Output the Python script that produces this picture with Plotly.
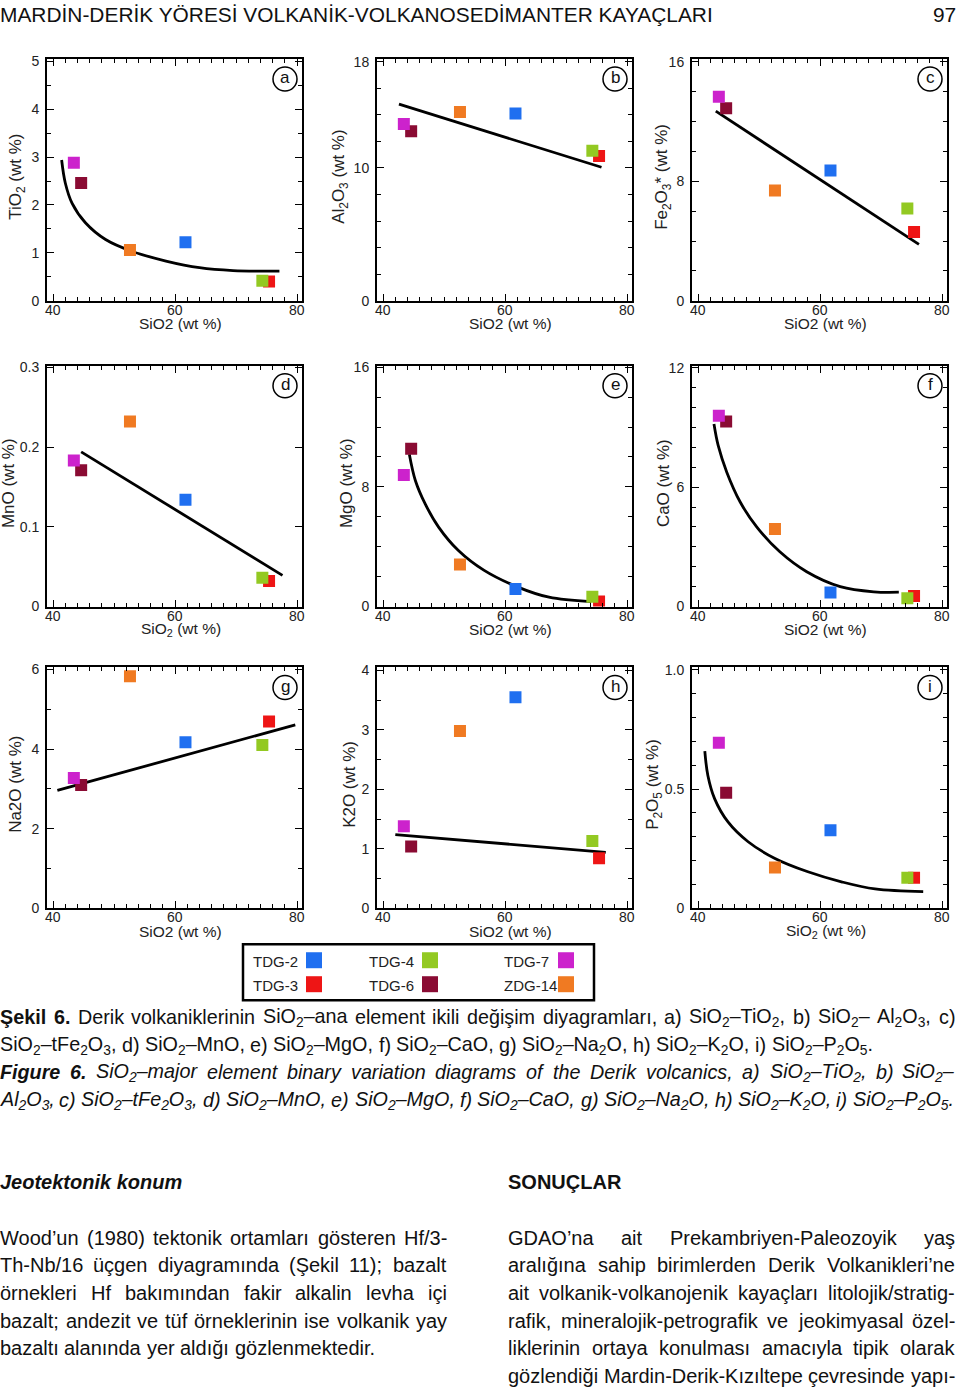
import plotly.graph_objects as go

W, H = 960, 1389

# ---------------- data ----------------
samples = ["TDG-2", "TDG-3", "TDG-4", "TDG-6", "TDG-7", "ZDG-14"]
colors = ["#1f6ff0", "#ee1515", "#93c922", "#8a0b33", "#cc22cc", "#f07a22"]

sio2 = [61.7, 75.4, 74.3, 44.6, 43.4, 52.6]
tio2 = [1.22, 0.40, 0.42, 2.46, 2.88, 1.06]
al2o3 = [14.1, 10.9, 11.3, 12.75, 13.3, 14.2]
fe2o3 = [8.73, 4.6, 6.18, 12.9, 13.67, 7.38]
mno = [0.134, 0.032, 0.036, 0.171, 0.183, 0.232]
mgo = [1.17, 0.33, 0.66, 10.55, 8.8, 2.81]
cao = [0.70, 0.53, 0.42, 9.3, 9.58, 3.9]
na2o = [4.17, 4.69, 4.10, 3.10, 3.27, 5.83]
k2o = [3.55, 0.84, 1.13, 1.04, 1.38, 2.98]
p2o5 = [0.327, 0.128, 0.128, 0.485, 0.694, 0.171]

# trend lines
trend_a_x = [41.4, 42.0, 43.1, 45.3, 48.6, 53.0, 58.5, 64.0, 69.5, 77.1]
trend_a_y = [2.94, 2.46, 2.04, 1.63, 1.28, 1.03, 0.83, 0.69, 0.63, 0.62]
trend_b_x = [42.6, 75.8]
trend_b_y = [14.8, 10.05]
trend_c_x = [42.9, 76.2]
trend_c_y = [12.7, 3.78]
trend_d_x = [44.6, 77.6]
trend_d_y = [0.194, 0.039]
trend_e_x = [44.3, 45.3, 46.9, 49.1, 52.3, 56.5, 61.9, 67.2, 74.1]
trend_e_y = [10.18, 8.41, 6.86, 5.31, 3.76, 2.43, 1.33, 0.62, 0.33]
trend_f_x = [42.6, 43.3, 44.7, 46.9, 49.6, 53.4, 57.8, 63.3, 68.8, 72.9]
trend_f_y = [9.17, 8.08, 6.75, 5.25, 4.0, 2.75, 1.75, 1.0, 0.74, 0.72]
trend_g_x = [40.7, 79.7]
trend_g_y = [2.96, 4.61]
trend_h_x = [42.0, 76.5]
trend_h_y = [1.24, 0.94]
trend_i_x = [41.1, 41.6, 42.7, 44.9, 48.2, 52.6, 58.0, 63.5, 69.0, 76.9]
trend_i_y = [0.659, 0.557, 0.46, 0.362, 0.279, 0.209, 0.153, 0.111, 0.081, 0.070]

x_ticks = [40, 60, 80]

panels = [
    ("a", tio2, trend_a_x, trend_a_y, [0, 5.05], [0, 1, 2, 3, 4, 5], ["0", "1", "2", "3", "4", "5"], 0.5,
     "TiO<sub>2</sub> (wt %)", "SiO2 (wt %)"),
    ("b", al2o3, trend_b_x, trend_b_y, [0, 18.2], [0, 10, 18], ["0", "10", "18"], 2,
     "Al<sub>2</sub>O<sub>3</sub> (wt %)", "SiO2 (wt %)"),
    ("c", fe2o3, trend_c_x, trend_c_y, [0, 16.2], [0, 8, 16], ["0", "8", "16"], 2,
     "Fe<sub>2</sub>O<sub>3</sub>* (wt %)", "SiO2 (wt %)"),
    ("d", mno, trend_d_x, trend_d_y, [0, 0.302], [0, 0.1, 0.2, 0.3], ["0", "0.1", "0.2", "0.3"], 0.1,
     "MnO (wt %)", "SiO<sub>2</sub> (wt %)"),
    ("e", mgo, trend_e_x, trend_e_y, [0, 16.1], [0, 8, 16], ["0", "8", "16"], 2,
     "MgO (wt %)", "SiO2 (wt %)"),
    ("f", cao, trend_f_x, trend_f_y, [0, 12.1], [0, 6, 12], ["0", "6", "12"], 1,
     "CaO (wt %)", "SiO2 (wt %)"),
    ("g", na2o, trend_g_x, trend_g_y, [0, 6.05], [0, 2, 4, 6], ["0", "2", "4", "6"], 1,
     "Na2O (wt %)", "SiO2 (wt %)"),
    ("h", k2o, trend_h_x, trend_h_y, [0, 4.05], [0, 1, 2, 3, 4], ["0", "1", "2", "3", "4"], 0.5,
     "K2O (wt %)", "SiO2 (wt %)"),
    ("i", p2o5, trend_i_x, trend_i_y, [0, 1.01], [0, 0.5, 1.0], ["0", "0.5", "1.0"], 0.1,
     "P<sub>2</sub>O<sub>5</sub> (wt %)", "SiO<sub>2</sub> (wt %)"),
]

# ---------------- layout geometry (pixels) ----------------
cols_px = [(47, 302), (377, 632), (692, 947)]
rows_px = [(57, 299), (364, 605), (666, 907)]
ytitle_off = [30, 37, 29, 39, 31, 29, 31, 27, 38]


def px(x):
    return x / W


def py(y):
    return 1 - ((y - 5) / 0.99) / H


FONT = "Liberation Sans, Arial, Helvetica, sans-serif"

# Arial / Liberation Sans advance widths (per 1000 em) for text justification
AR = {" ": 278, "'": 191, "(": 333, ")": 333, "*": 389, ",": 278, "-": 333, ".": 278, "/": 278,
      ":": 278, ";": 278, "%": 889, "’": 222, "–": 556,
      "A": 667, "B": 667, "C": 722, "D": 722, "E": 667, "F": 611, "G": 778, "H": 722, "I": 278,
      "J": 500, "K": 667, "L": 556, "M": 833, "N": 722, "O": 778, "P": 667, "Q": 778, "R": 722,
      "S": 667, "T": 611, "U": 722, "V": 667, "W": 944, "X": 667, "Y": 667, "Z": 611,
      "a": 556, "b": 556, "c": 500, "d": 556, "e": 556, "f": 278, "g": 556, "h": 556, "i": 222,
      "j": 222, "k": 500, "l": 222, "m": 833, "n": 556, "o": 556, "p": 556, "q": 556, "r": 333,
      "s": 500, "t": 278, "u": 556, "v": 500, "w": 722, "x": 500, "y": 500, "z": 500,
      "ı": 278, "ğ": 556, "ş": 500, "ü": 556, "ö": 556, "ç": 500, "Ş": 667, "Ç": 722, "İ": 278,
      "Ö": 778, "Ü": 722}
ARB = {"e": 556, "k": 556, "i": 278, "l": 278, "g": 611, "u": 611, "r": 389, "F": 611, "Ş": 667}


def text_width(word, size, bold=False):
    total, scale, i = 0.0, 1.0, 0
    while i < len(word):
        if word.startswith("<sub>", i):
            scale = 0.7
            i += 5
            continue
        if word.startswith("</sub>", i):
            scale = 1.0
            i += 6
            continue
        ch = word[i]
        w = ARB.get(ch, AR.get(ch, 556)) if bold else AR.get(ch, 556)
        total += w * scale
        i += 1
    return total * size / 1000.0


annotations = []
shapes = []


def add_line(text, xl, xr, y, size, italic=False, nbold=0, justify=True):
    words = text.split(" ")
    widths = [text_width(w, size, bold=(k < nbold)) for k, w in enumerate(words)]
    if justify and len(words) > 1:
        gap = (xr - xl - sum(widths)) / (len(words) - 1)
    else:
        gap = AR[" "] * size / 1000.0
    x = xl
    for k, (w, wd) in enumerate(zip(words, widths)):
        t = w
        if italic:
            t = f"<i>{t}</i>"
        if k < nbold:
            t = f"<b>{t}</b>"
        last = justify and k == len(words) - 1 and len(words) > 1
        annotations.append(dict(text=t, xref="paper", yref="paper",
                                x=px(xr if last else x), y=py(y), showarrow=False,
                                xanchor="right" if last else "left", yanchor="middle",
                                borderpad=0, borderwidth=0,
                                font=dict(family=FONT, size=size, color="#111")))
        x += wd + gap


fig = go.Figure()
layout = dict(
    width=W, height=H, margin=dict(l=0, r=0, t=0, b=0),
    paper_bgcolor="white", plot_bgcolor="white", showlegend=False,
    font=dict(family=FONT, color="#222"),
)

for k, (lab, yv, tx, ty, yr, ytv, ytt, ymin, ytitle, xtitle) in enumerate(panels):
    n = k + 1
    r, c = divmod(k, 3)
    x0, x1 = cols_px[c]
    y0, y1 = rows_px[r]
    xa = "x" if n == 1 else f"x{n}"
    ya = "y" if n == 1 else f"y{n}"
    xkey = "xaxis" if n == 1 else f"xaxis{n}"
    ykey = "yaxis" if n == 1 else f"yaxis{n}"
    common = dict(showline=True, linecolor="black", linewidth=2, mirror="allticks",
                  ticks="inside", ticklen=7, tickwidth=1.3, tickcolor="black",
                  showgrid=False, zeroline=False)
    layout[xkey] = dict(domain=[px(x0), px(x1)], range=[39, 80.8], anchor=ya,
                        tickvals=x_ticks, showticklabels=False,
                        minor=dict(ticks="inside", ticklen=4, dtick=2, tick0=40,
                                   tickcolor="black", tickwidth=1),
                        **common)
    layout[ykey] = dict(domain=[py(y1), py(y0)], range=yr, anchor=xa,
                        tickvals=ytv, ticktext=ytt, ticklabelstandoff=3,
                        tickfont=dict(family=FONT, size=14, color="#222"),
                        minor=dict(ticks="inside", ticklen=4, dtick=ymin, tick0=0,
                                   tickcolor="black", tickwidth=1),
                        **common)
    fig.add_trace(go.Scatter(x=tx, y=ty, xaxis=xa, yaxis=ya, mode="lines",
                             line=dict(color="black", width=2.8, shape="spline"),
                             hoverinfo="skip"))
    fig.add_trace(go.Scatter(x=sio2, y=yv, xaxis=xa, yaxis=ya, mode="markers",
                             text=samples,
                             marker=dict(symbol="square", size=12, color=colors,
                                         line=dict(width=0))))
    # x tick labels (placed close to the axis as in the original)
    for v in x_ticks:
        annotations.append(dict(text=str(v), xref=xa, yref="paper", x=v, y=py(y1 + 9),
                                showarrow=False, xanchor="center", yanchor="middle",
                                borderpad=0, borderwidth=0,
                                font=dict(family=FONT, size=14, color="#222")))
    # panel letter in circle
    cx, cy = x1 - 17, y0 + 20
    shapes.append(dict(type="circle", xref="paper", yref="paper",
                       x0=px(cx - 12), x1=px(cx + 12), y0=py(cy + 12), y1=py(cy - 12),
                       line=dict(color="black", width=1.5)))
    annotations.append(dict(text=lab, xref="paper", yref="paper", x=px(cx), y=py(cy - 1),
                            showarrow=False, xanchor="center", yanchor="middle",
                            font=dict(family=FONT, size=17, color="#111")))
    # axis titles
    annotations.append(dict(text=xtitle, xref="paper", yref="paper",
                            x=px((x0 + x1) / 2 + 6), y=py(y1 + 23),
                            showarrow=False, xanchor="center", yanchor="middle",
                            font=dict(family=FONT, size=15.5, color="#222")))
    annotations.append(dict(text=ytitle, xref="paper", yref="paper",
                            x=px(x0 - ytitle_off[k]), y=py((y0 + y1) / 2 - 3),
                            showarrow=False, xanchor="center", yanchor="middle",
                            textangle=-90,
                            font=dict(family=FONT, size=17, color="#222")))

# ---------------- legend box ----------------
shapes.append(dict(type="rect", xref="paper", yref="paper",
                   x0=px(243), x1=px(594), y0=py(999), y1=py(943),
                   line=dict(color="black", width=2.5), fillcolor="white"))
leg_text_x = [251, 367, 502]
leg_mark_x = [314, 430, 566]
leg_row_y = [960, 984]
for k, (name, col) in enumerate(zip(samples, colors)):
    cc, rr = divmod(k, 2)
    annotations.append(dict(text=name, xref="paper", yref="paper",
                            x=px(leg_text_x[cc]), y=py(leg_row_y[rr]),
                            showarrow=False, xanchor="left", yanchor="middle",
                            font=dict(family=FONT, size=15, color="#222")))
    mx, my = leg_mark_x[cc], leg_row_y[rr] - 1
    shapes.append(dict(type="rect", xref="paper", yref="paper",
                       x0=px(mx - 8), x1=px(mx + 8), y0=py(my + 8), y1=py(my - 8),
                       line=dict(width=0), fillcolor=col))

# ---------------- page text ----------------
annotations.append(dict(text="MARDİN-DERİK YÖRESİ VOLKANİK-VOLKANOSEDİMANTER KAYAÇLARI",
                        xref="paper", yref="paper", x=0, y=py(13), showarrow=False,
                        xanchor="left", yanchor="middle", borderpad=0, borderwidth=0,
                        font=dict(family=FONT, size=20.9, color="#111")))
annotations.append(dict(text="97", xref="paper", yref="paper", x=px(956), y=py(13), showarrow=False,
                        xanchor="right", yanchor="middle", borderpad=0, borderwidth=0,
                        font=dict(family=FONT, size=20.9, color="#111")))

S2 = "SiO<sub>2</sub>"
CAP = 19.75
add_line(f"Şekil 6. Derik volkaniklerinin {S2}–ana element ikili değişim diyagramları, a) {S2}–TiO<sub>2</sub>, "
         f"b) {S2}– Al<sub>2</sub>O<sub>3</sub>, c)", 0, 955, 1016, CAP, nbold=2)
add_line(f"{S2}–tFe<sub>2</sub>O<sub>3</sub>, d) {S2}–MnO, e) {S2}–MgO, f) {S2}–CaO, g) {S2}–Na<sub>2</sub>O, "
         f"h) {S2}–K<sub>2</sub>O, i) {S2}–P<sub>2</sub>O<sub>5</sub>.", 0, 955, 1044, CAP, justify=False)
add_line(f"Figure 6. {S2}–major element binary variation diagrams of the Derik volcanics, "
         f"a) {S2}–TiO<sub>2</sub>, b) {S2}–", 0, 955, 1071, CAP, italic=True, nbold=2)
add_line(f"Al<sub>2</sub>O<sub>3</sub>, c) {S2}–tFe<sub>2</sub>O<sub>3</sub>, d) {S2}–MnO, e) {S2}–MgO, "
         f"f) {S2}–CaO, g) {S2}–Na<sub>2</sub>O, h) {S2}–K<sub>2</sub>O, i) {S2}–P<sub>2</sub>O<sub>5</sub>.",
         0, 955, 1099, CAP, italic=True, justify=False)

annotations.append(dict(text="<b><i>Jeotektonik konum</i></b>", xref="paper", yref="paper",
                        x=0, y=py(1181), showarrow=False, xanchor="left", yanchor="middle",
                        borderpad=0, borderwidth=0,
                        font=dict(family=FONT, size=20, color="#111")))
annotations.append(dict(text="<b>SONUÇLAR</b>", xref="paper", yref="paper",
                        x=px(508), y=py(1181), showarrow=False, xanchor="left", yanchor="middle",
                        borderpad=0, borderwidth=0,
                        font=dict(family=FONT, size=20, color="#111")))

left_lines = [
    "Wood’un (1980) tektonik ortamları gösteren Hf/3-",
    "Th-Nb/16 üçgen diyagramında (Şekil 11); bazalt",
    "örnekleri Hf bakımından fakir alkalin levha içi",
    "bazalt; andezit ve tüf örneklerinin ise volkanik yay",
    "bazaltı alanında yer aldığı gözlenmektedir.",
]
right_lines = [
    "GDAO’na ait Prekambriyen-Paleozoyik yaş",
    "aralığına sahip birimlerden Derik Volkanikleri’ne",
    "ait volkanik-volkanojenik kayaçları litolojik/stratig-",
    "rafik, mineralojik-petrografik ve jeokimyasal özel-",
    "liklerinin ortaya konulması amacıyla tipik olarak",
    "gözlendiği Mardin-Derik-Kızıltepe çevresinde yapı-",
]
body_y = [1237, 1264, 1292, 1320, 1347, 1375]
BODY = 20
for k, (t, yy) in enumerate(zip(left_lines, body_y)):
    add_line(t, 0, 447, yy, BODY, justify=(k < len(left_lines) - 1))
for t, yy in zip(right_lines, body_y):
    add_line(t, 508, 955, yy, BODY, justify=True)

layout["annotations"] = annotations
layout["shapes"] = shapes
fig.update_layout(**layout)
fig.write_html("out.html")
